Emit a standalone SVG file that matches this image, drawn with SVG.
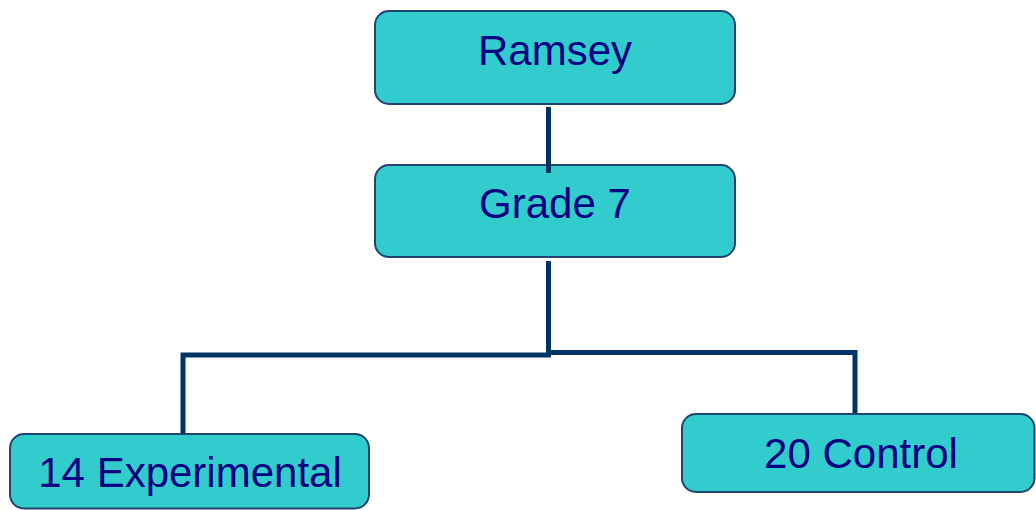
<svg xmlns="http://www.w3.org/2000/svg" width="1036" height="510" viewBox="0 0 1036 510">
<style>
.box{fill:#33CCCC;stroke:#1F4470;stroke-width:2}
.lbl{font-family:"Liberation Sans",Arial,sans-serif;font-size:42px;fill:#000080;text-anchor:middle}
.conn{fill:none;stroke:#003366;stroke-width:5}
</style>
<rect width="1036" height="510" fill="#FFFFFF"/>
<g id="ramsey">
<rect class="box" x="375" y="11" width="360" height="93" rx="14"/>
<text class="lbl" x="555" y="65">Ramsey</text>
</g>
<g id="grade7">
<rect class="box" x="375" y="165" width="360" height="92" rx="14"/>
<text class="lbl" x="555" y="218">Grade 7</text>
</g>
<g id="experimental">
<rect class="box" x="10" y="434" width="359" height="74.5" rx="14"/>
<text class="lbl" x="190" y="487">14 Experimental</text>
</g>
<g id="control">
<rect class="box" x="682" y="414" width="352.5" height="78" rx="14"/>
<text class="lbl" x="861" y="468">20 Control</text>
</g>
<g id="connectors">
<line class="conn" x1="548.5" y1="107" x2="548.5" y2="173"/>
<polyline class="conn" points="548.5,261 548.5,355 183,355 183,433"/>
<polyline class="conn" points="548.5,352.5 855,352.5 855,413"/>
</g>
</svg>
